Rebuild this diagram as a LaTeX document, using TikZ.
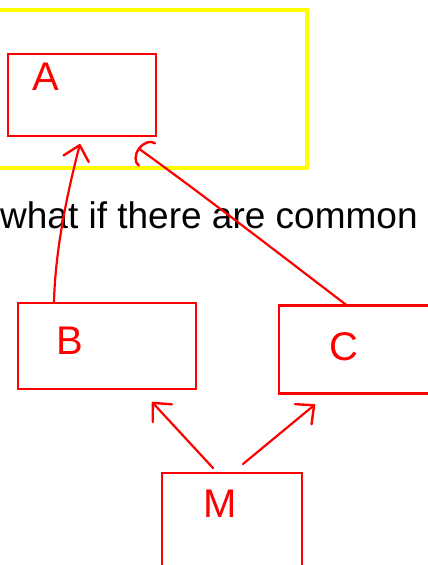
\documentclass[tikz,border=0pt]{standalone}
\usepackage{fontspec}
\setmainfont{Liberation Sans}
\usetikzlibrary{arrows.meta}
\definecolor{penred}{RGB}{255,0,0}
\definecolor{hiyellow}{RGB}{255,255,0}
\tikzset{
  box/.style={draw=penred, line width=2.8pt, minimum width=#1, inner sep=0pt, outer sep=0pt},
  letter/.style={text=penred, font=\fontsize{40}{44}\selectfont, inner sep=0pt},
  hand/.style={draw=penred, line width=2.2pt, line cap=round, line join=round,
    -{Straight Barb[length=14pt,width=26pt,line width=2.4pt,round]}},
  handarc/.style={draw=penred, line width=2.2pt, line cap=round, line join=round,
    -{Arc Barb[length=11pt,width=30pt,line width=2.4pt,round]}}
}
\begin{document}
\begin{tikzpicture}[x=1pt,y=-1pt]
  \useasboundingbox (0,0) rectangle (428,565);
  % highlighted group
  \node[draw=hiyellow, line width=3.5pt, minimum width=320pt, minimum height=158pt, inner sep=0pt] (grp) at (147,89) {};
  % boxes
  \node[box=148pt, minimum height=82pt] (A) at (82,95) {};
  \node[box=178pt, minimum height=86pt] (B) at (107,346) {};
  \node[box=164pt, minimum height=88pt] (C) at (361,349.5) {};
  \node[box=140pt, minimum height=110pt] (M) at (232,528) {};
  % box labels
  \node[letter] (la) at (46,77) {A};
  \node[letter] (lb) at (70,341) {B};
  \node[letter] (lc) at (344,347) {C};
  \node[letter] (lm) at (220,504) {M};
  % caption
  \node[anchor=base west, inner sep=0pt, font=\fontsize{37}{44}\selectfont] (q) at (0,228) {what if there are common};
  % dependencies
  \coordinate (bs) at ([xshift=36]B.north west);
  \coordinate (at1) at ([shift={(-2,8)}]A.south);
  \draw[hand] (bs) .. controls (55,250) and (68,190) .. (at1);
  \coordinate (cs) at ([xshift=68]C.north west);
  \coordinate (at2) at ([shift={(56,12)}]A.south);
  \draw[handarc] (cs) .. controls (290,262) and (210,200) .. (at2);
  \coordinate (ms1) at ([shift={(-19,-5)}]M.north);
  \coordinate (bt) at ([shift={(45,13)}]B.south);
  \draw[hand] (ms1) -- (bt);
  \coordinate (ms2) at ([shift={(11,-9)}]M.north);
  \coordinate (ct) at ([shift={(-46,11)}]C.south);
  \draw[hand] (ms2) -- (ct);
\end{tikzpicture}
\end{document}
